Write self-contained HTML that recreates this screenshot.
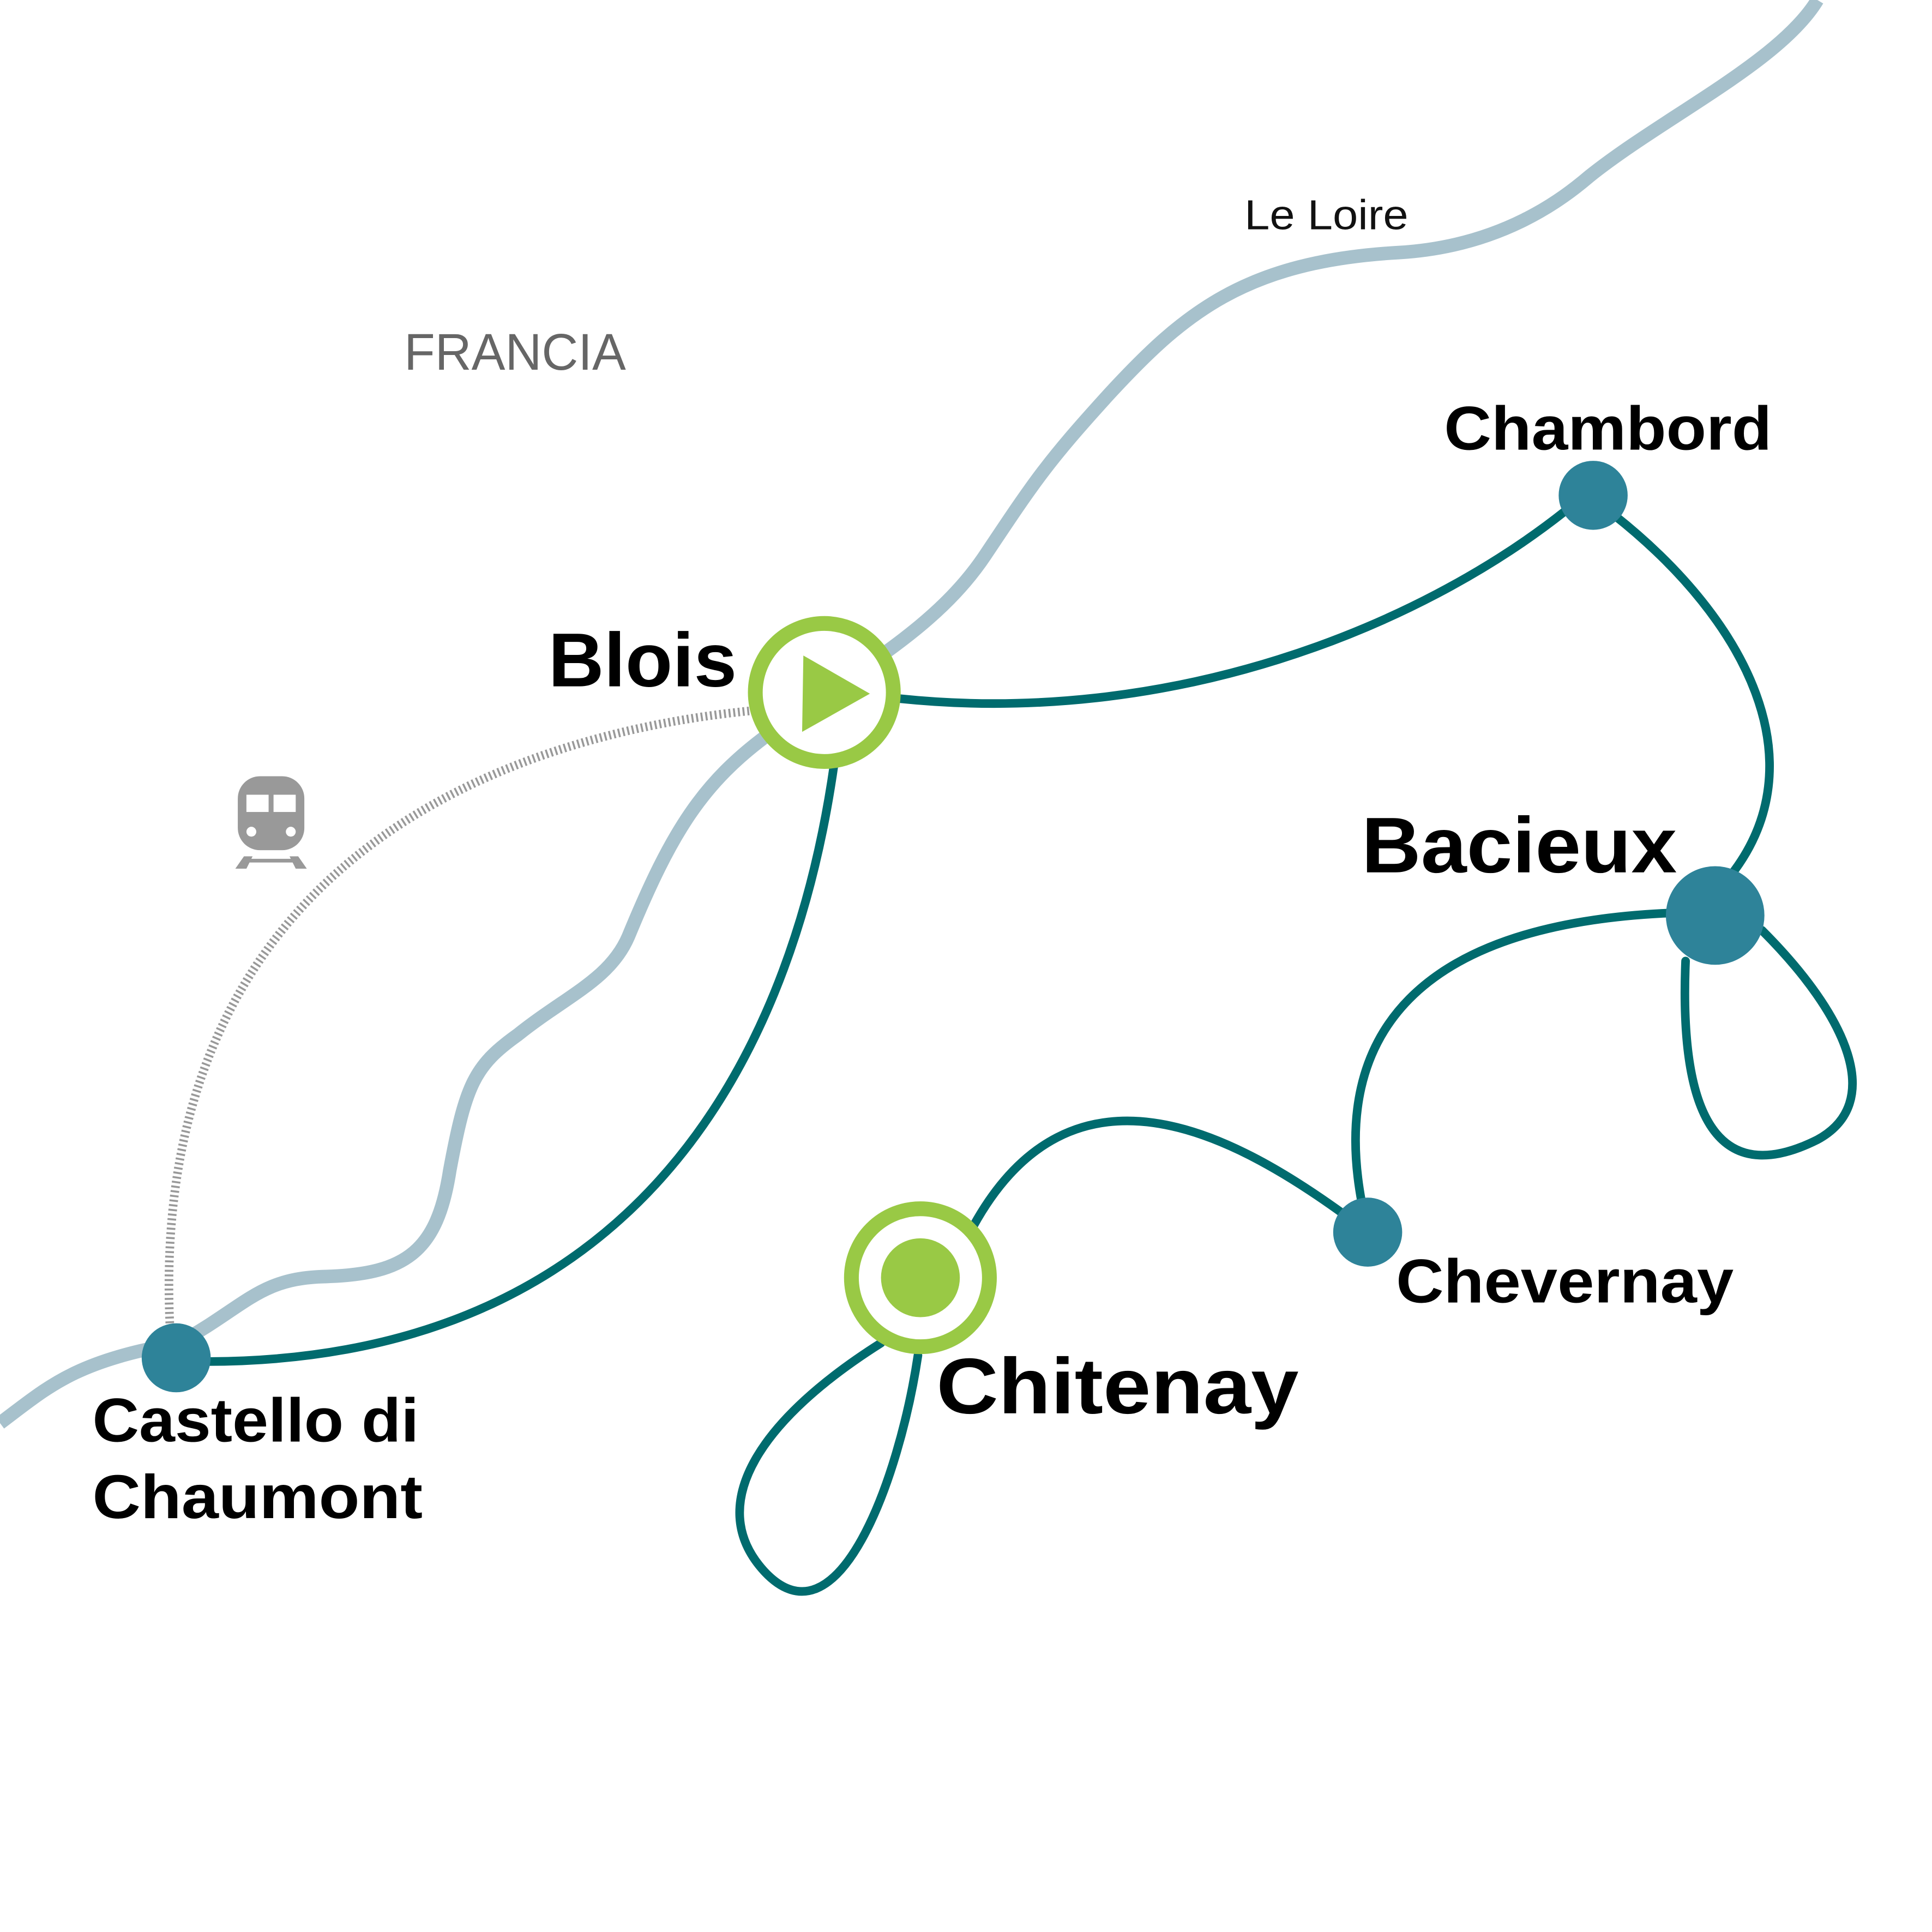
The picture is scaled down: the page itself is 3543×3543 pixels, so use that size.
<!DOCTYPE html>
<html><head><meta charset="utf-8"><style>html,body{margin:0;padding:0;background:#fff}svg{display:block}</style></head>
<body>
<svg width="3543" height="3543" viewBox="0 0 1568 1568" xmlns="http://www.w3.org/2000/svg">
<rect width="1568" height="1568" fill="#fff"/>
<path d="M0,1155 C40,1125 60,1105 145,1090 C200,1060 210,1037 265,1036 C330,1034 355,1015 365,950 C378,880 385,865 420,840 C460,808 495,795 510,760 C545,675 570,635 625,595 C700,540 760,510 800,450 C840,390 850,375 900,320 C960,255 1010,212 1135,205 C1220,200 1270,160 1290,143 C1350,95 1445,50 1475,0" fill="none" stroke="#a7c1cc" stroke-width="11"/>
<path d="M608,577 C380,600 120,720 138,1078" fill="none" stroke="#999" stroke-width="7" stroke-dasharray="1.6 2.2"/>
<g fill="none" stroke="#006b6e" stroke-width="7" stroke-linecap="round">
<path d="M730,567 C950,590 1150,510 1270,415"/>
<path d="M1310,418 C1420,505 1475,620 1405,710"/>
<path d="M1430,755 C1500,825 1530,895 1475,925 C1405,960 1362,925 1368,780"/>
<path d="M1355,741 C1150,750 1080,840 1105,975"/>
<path d="M1090,985 C1000,920 870,850 790,995"/>
<path d="M715,1090 C620,1150 570,1220 620,1275 C680,1340 730,1200 745,1100"/>
<path d="M677,620 C640,880 500,1108 160,1105"/>
</g>
<g fill="#2e8399">
<circle cx="143" cy="1102" r="28"/>
<circle cx="1293" cy="402" r="28"/>
<circle cx="1392" cy="743" r="40"/>
<circle cx="1110" cy="1000" r="28"/>
</g>
<circle cx="669" cy="562" r="56" fill="#fff" stroke="#99c945" stroke-width="12"/>
<polygon points="652,532 651,594 706,563" fill="#99c945"/>
<circle cx="747" cy="1037" r="56" fill="#fff" stroke="#99c945" stroke-width="12"/>
<circle cx="747" cy="1037" r="32" fill="#99c945"/>
<g fill="#999">
<rect x="193" y="630" width="54" height="60" rx="18"/>
<rect x="200" y="645" width="18" height="14" fill="#fff"/>
<rect x="222" y="645" width="18" height="14" fill="#fff"/>
<circle cx="204" cy="675" r="4" fill="#fff"/>
<circle cx="236" cy="675" r="4" fill="#fff"/>
<polygon points="198,695 205,695 200,705 191,705"/>
<polygon points="242,695 235,695 240,705 249,705"/>
<rect x="200" y="697" width="40" height="3"/>
</g>
<g font-family="'Liberation Sans', sans-serif" font-weight="bold" fill="#000">
<text x="445" y="557" font-size="62" textLength="153" lengthAdjust="spacingAndGlyphs">Blois</text>
<text x="1172" y="365" font-size="50" textLength="266" lengthAdjust="spacingAndGlyphs">Chambord</text>
<text x="1105" y="708" font-size="64" textLength="256" lengthAdjust="spacingAndGlyphs">Bacieux</text>
<text x="1133" y="1057" font-size="50" textLength="274" lengthAdjust="spacingAndGlyphs">Chevernay</text>
<text x="760" y="1147" font-size="64" textLength="294" lengthAdjust="spacingAndGlyphs">Chitenay</text>
<text x="75" y="1170" font-size="50" textLength="265" lengthAdjust="spacingAndGlyphs">Castello di</text>
<text x="75" y="1232" font-size="50" textLength="268" lengthAdjust="spacingAndGlyphs">Chaumont</text>
</g>
<text x="1010" y="186" font-family="'Liberation Sans', sans-serif" font-size="34" fill="#111" textLength="133" lengthAdjust="spacingAndGlyphs">Le Loire</text>
<text x="328" y="300" font-family="'Liberation Sans', sans-serif" font-size="42" fill="#666" textLength="180" lengthAdjust="spacingAndGlyphs">FRANCIA</text>
</svg>
</body></html>
